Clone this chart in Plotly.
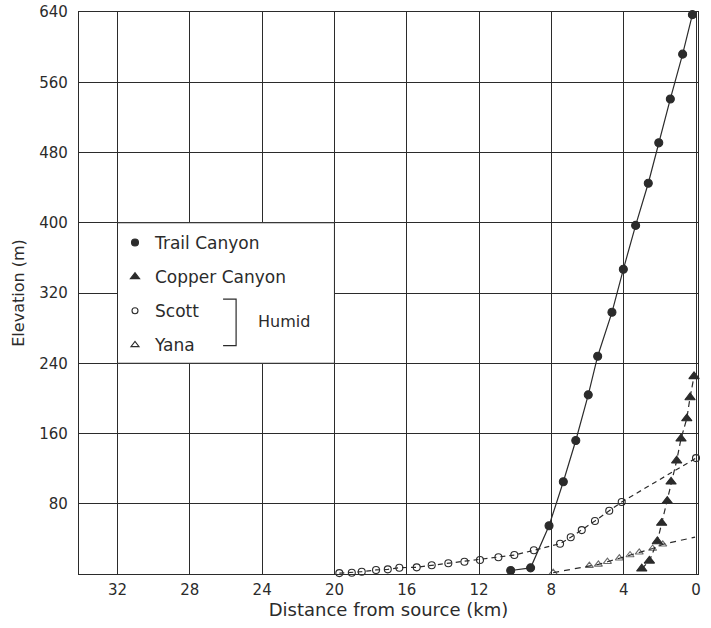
import plotly.graph_objects as go

# ---- data (distance from source in km, elevation in m) ----
trail_km = [10.25, 9.15, 8.13, 7.34, 6.65, 5.96, 5.44, 4.65, 4.02, 3.34, 2.64, 2.06, 1.42, 0.74, 0.2]
trail_m = [4, 7, 55, 105, 152, 204, 248, 298, 347, 397, 445, 491, 541, 592, 637]

copper_km = [3.0, 2.58, 2.14, 1.9, 1.59, 1.38, 1.07, 0.83, 0.51, 0.33, 0.11]
copper_m = [6, 15, 37, 58, 83, 105, 129, 154, 177, 201, 225]

scott_km = [19.73, 19.04, 18.49, 17.7, 17.05, 16.41, 15.45, 14.62, 13.7, 12.81, 11.95,
            10.93, 10.05, 8.97, 7.52, 6.93, 6.32, 5.59, 4.8, 4.11, 0.0]
scott_m = [1, 1.5, 2.6, 4.6, 5.3, 7.2, 7.6, 9.9, 12.2, 14, 16,
           19, 21.6, 27, 34.5, 41.8, 50, 60.4, 72, 82, 132]

yana_km = [7.9, 5.9, 5.4, 4.9, 4.24, 3.65, 3.14, 2.4, 1.84, 0.05]
yana_m = [1.5, 9.5, 11, 14, 18, 21.6, 24.7, 29, 33.8, 42]

series_names = ["Trail Canyon", "Copper Canyon", "Scott", "Yana"]
x_ticks = [32, 28, 24, 20, 16, 12, 8, 4, 0]
y_ticks = [80, 160, 240, 320, 400, 480, 560, 640]

INK = "#2b2b2b"
FONT = "DejaVu Sans"

fig = go.Figure()

def add_series(name, xs, ys, symbol, dash, msize, sizes=None):
    fig.add_trace(go.Scatter(
        x=xs, y=ys, mode="lines+markers", name=name, showlegend=False,
        line=dict(color=INK, width=1.2, dash=dash),
        marker=dict(symbol=symbol, size=sizes if sizes else msize, color=INK,
                    line=dict(color=INK, width=1.1)),
        cliponaxis=False,
    ))
    fig.add_trace(go.Scatter(
        x=[None], y=[None], mode="markers", name=name, legendgroup=name,
        marker=dict(symbol=symbol, size=msize - 1, color=INK,
                    line=dict(color=INK, width=1.1)),
    ))

add_series(series_names[0], trail_km, trail_m, "circle", "solid", 8)
add_series(series_names[1], copper_km, copper_m, "triangle-up", "6px,4px", 9)
add_series(series_names[2], scott_km, scott_m, "circle-open", "5px,4px", 7)
yana_sizes = [7] * (len(yana_km) - 1) + [0]
add_series(series_names[3], yana_km, yana_m, "triangle-up-open", "6px,5px", 8, yana_sizes)

# white legend panel hiding the grid
fig.add_shape(type="rect", xref="x", yref="y", x0=32, x1=20, y0=240, y1=400,
              fillcolor="white", line=dict(color=INK, width=1), layer="between")
# bracket for "Humid"
fig.add_shape(type="path", xref="x", yref="y",
              path="M 26.16 313 L 25.44 313 L 25.44 260 L 26.16 260",
              line=dict(color=INK, width=1.2))
fig.add_annotation(x=24.34, y=288, xref="x", yref="y", text="Humid", showarrow=False,
                   xanchor="left", yanchor="middle",
                   font=dict(family=FONT, size=16, color=INK))

axis_common = dict(
    showgrid=True, gridcolor=INK, gridwidth=1,
    showline=True, linecolor=INK, linewidth=1.2, mirror=True,
    ticks="", zeroline=False, automargin=False, ticklabeloverflow="allow",
    tickfont=dict(family=FONT, size=15, color=INK),
)

fig.update_layout(
    width=711, height=628,
    margin=dict(l=79, r=13, t=12, b=54, autoexpand=False),
    paper_bgcolor="white", plot_bgcolor="white",
    xaxis=dict(range=[34.13, -0.11], tickvals=x_ticks, ticktext=[str(v) for v in x_ticks],
               ticklabelstandoff=2,
               title=dict(text="Distance from source (km)", standoff=1,
                          font=dict(family=FONT, size=18, color=INK)),
               **axis_common),
    yaxis=dict(range=[0, 640], tickvals=y_ticks, ticktext=[str(v) for v in y_ticks],
               ticklabelstandoff=7,
               title=dict(text="Elevation (m)", standoff=10,
                          font=dict(family=FONT, size=16, color=INK)),
               **axis_common),
    legend=dict(x=(115 - 79) / 619, y=(574 - 225) / 562, xanchor="left", yanchor="top",
                bgcolor="rgba(0,0,0,0)", borderwidth=0, itemwidth=30,
                tracegroupgap=9, font=dict(family=FONT, size=17, color=INK)),
    showlegend=True,
)

# remove the default page margin so the 711x628 figure fills the window exactly
fig.write_html("out.html", config={"displayModeBar": False},
               post_script="document.body.style.margin='0px';")
